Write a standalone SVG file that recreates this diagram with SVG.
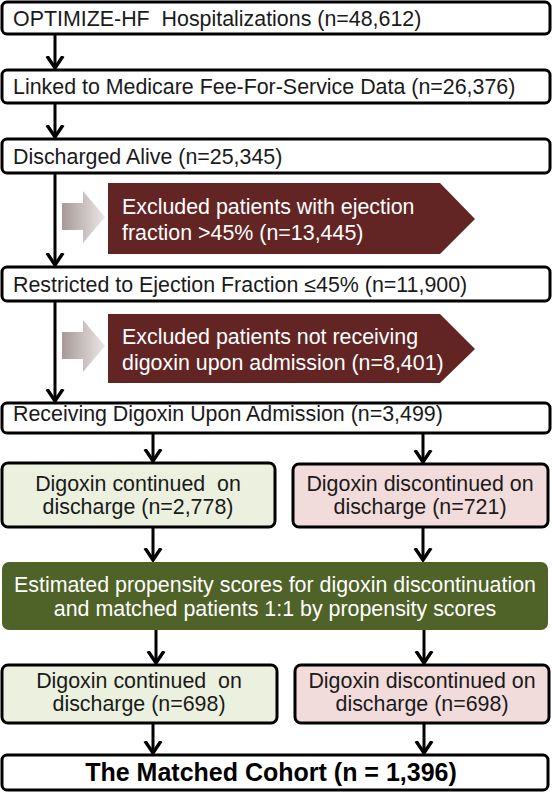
<svg xmlns="http://www.w3.org/2000/svg" width="552" height="792" viewBox="0 0 552 792">
<style>
.box{fill:#fff;stroke:#000;stroke-width:3}
.gbox{fill:#ebf1de;stroke:#000;stroke-width:3}
.pbox{fill:#f2dcdb;stroke:#000;stroke-width:3}
.t{font-family:"Liberation Sans",Arial,sans-serif;font-size:21.4px;fill:#1a1a1a}
.w{font-family:"Liberation Sans",Arial,sans-serif;font-size:21.4px;fill:#fff}
.c{text-anchor:middle}
.b{font-family:"Liberation Sans",Arial,sans-serif;font-size:25px;font-weight:bold;fill:#000;text-anchor:middle}
.ln{stroke:#000;stroke-width:3;fill:none;marker-end:url(#ah)}
</style>
<defs>
<marker id="ah" markerUnits="userSpaceOnUse" markerWidth="24" markerHeight="24" viewBox="-12 -12 24 24" refX="0" refY="0" orient="auto">
<path d="M-12,-8 L0,0 L-12,8" fill="none" stroke="#000" stroke-width="3.4" stroke-linejoin="miter"/>
</marker>
<linearGradient id="gg" x1="0" y1="0" x2="1" y2="0">
<stop offset="0" stop-color="#a89898"/>
<stop offset="1" stop-color="#ece6e6"/>
</linearGradient>
</defs>
<g id="connectors">
<line class="ln" x1="55" y1="35" x2="55" y2="68"/>
<line class="ln" x1="55" y1="104" x2="55" y2="137"/>
<line class="ln" x1="55" y1="173" x2="55" y2="265"/>
<line class="ln" x1="55" y1="302" x2="55" y2="401"/>
<line class="ln" x1="153" y1="433" x2="153" y2="461"/>
<line class="ln" x1="423" y1="433" x2="423" y2="462"/>
<line class="ln" x1="153" y1="528" x2="153" y2="560"/>
<line class="ln" x1="423" y1="528" x2="423" y2="560"/>
<line class="ln" x1="156" y1="630" x2="156" y2="663"/>
<line class="ln" x1="424" y1="630" x2="424" y2="663"/>
<line class="ln" x1="153" y1="724" x2="153" y2="753"/>
<line class="ln" x1="424" y1="724" x2="424" y2="753"/>
</g>
<g id="n1"><rect class="box" x="2" y="2" width="548" height="32" rx="5"/><text class="t" x="13" y="26" xml:space="preserve">OPTIMIZE-HF  Hospitalizations (n=48,612)</text></g>
<g id="n2"><rect class="box" x="2" y="70" width="548" height="33" rx="5"/><text class="t" x="13" y="94">Linked to Medicare Fee-For-Service Data (n=26,376)</text></g>
<g id="n3"><rect class="box" x="2" y="139" width="548" height="34" rx="5"/><text class="t" x="13" y="164">Discharged Alive (n=25,345)</text></g>
<g id="ex1">
<path d="M62,203 H83 V191 L105,217 L83,243 V230 H62 Z" fill="url(#gg)"/>
<polygon points="108,183 440,183 475,219 440,254 108,254" fill="#632523"/>
<text class="w" x="122" y="214">Excluded patients with ejection</text>
<text class="w" x="122" y="240">fraction &gt;45% (n=13,445)</text>
</g>
<g id="n4"><rect class="box" x="2" y="267" width="548" height="34" rx="5"/><text class="t" x="13" y="292">Restricted to Ejection Fraction ≤45% (n=11,900)</text></g>
<g id="ex2">
<path d="M62,332 H83 V320 L105,346 L83,372 V359 H62 Z" fill="url(#gg)"/>
<polygon points="108,314 440,314 475,349 440,383 108,383" fill="#632523"/>
<text class="w" x="122" y="344">Excluded patients not receiving</text>
<text class="w" x="122" y="370">digoxin upon admission (n=8,401)</text>
</g>
<g id="n5"><rect class="box" x="2" y="403" width="548" height="30" rx="5"/><text class="t" x="13" y="421">Receiving Digoxin Upon Admission (n=3,499)</text></g>
<g id="n6"><rect class="gbox" x="2" y="463" width="273" height="64" rx="6"/><text class="t c" x="138" y="491" xml:space="preserve">Digoxin continued  on</text><text class="t c" x="138" y="514">discharge (n=2,778)</text></g>
<g id="n7"><rect class="pbox" x="293" y="464" width="255" height="63" rx="6"/><text class="t c" x="420" y="491">Digoxin discontinued on</text><text class="t c" x="420" y="514">discharge (n=721)</text></g>
<g id="n8"><rect x="2" y="562" width="546" height="68" rx="7" fill="#4f6228"/><text class="w c" x="275" y="592">Estimated propensity scores for digoxin discontinuation</text><text class="w c" x="275" y="616">and matched patients 1:1 by propensity scores</text></g>
<g id="n9"><rect class="gbox" x="2" y="665" width="275" height="58" rx="6"/><text class="t c" x="139" y="688" xml:space="preserve">Digoxin continued  on</text><text class="t c" x="139" y="711">discharge (n=698)</text></g>
<g id="n10"><rect class="pbox" x="295" y="665" width="254" height="58" rx="6"/><text class="t c" x="422" y="688">Digoxin discontinued on</text><text class="t c" x="422" y="711">discharge (n=698)</text></g>
<g id="n11"><rect class="box" x="2" y="755" width="546" height="35" rx="5"/><text class="b" x="271" y="781">The Matched Cohort (n = 1,396)</text></g>
</svg>
